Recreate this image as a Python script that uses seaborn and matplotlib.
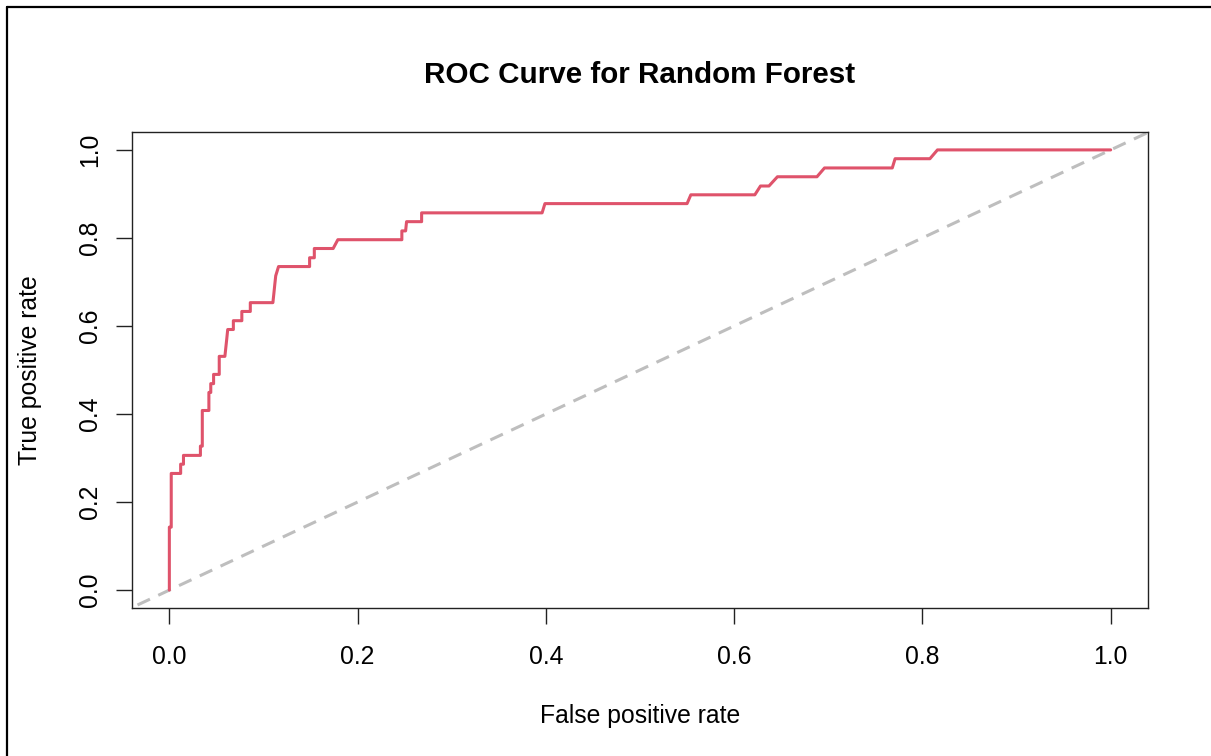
import matplotlib
matplotlib.use("Agg")
import matplotlib.pyplot as plt
from matplotlib.lines import Line2D
import seaborn as sns
import pandas as pd

# ROC curve points (false positive rate, true positive rate)
fpr = [0.0, 0.0, 0.002, 0.002, 0.012, 0.012, 0.015, 0.015, 0.033, 0.033,
       0.035, 0.035, 0.042, 0.042, 0.044, 0.044, 0.047, 0.047, 0.053, 0.053,
       0.059, 0.060, 0.061, 0.062, 0.068, 0.068, 0.077, 0.077, 0.086, 0.086,
       0.110, 0.111, 0.112, 0.113, 0.116, 0.149, 0.149, 0.154, 0.154, 0.174,
       0.179, 0.247, 0.247, 0.251, 0.252, 0.268, 0.268, 0.396, 0.399, 0.550,
       0.554, 0.622, 0.628, 0.637, 0.646, 0.688, 0.696, 0.768, 0.771, 0.808,
       0.816, 1.0]
tpr = [0.0, 0.143, 0.143, 0.265, 0.265, 0.286, 0.286, 0.306, 0.306, 0.327,
       0.327, 0.408, 0.408, 0.449, 0.449, 0.469, 0.469, 0.490, 0.490, 0.531,
       0.531, 0.551, 0.571, 0.592, 0.592, 0.612, 0.612, 0.633, 0.633, 0.653,
       0.653, 0.673, 0.694, 0.714, 0.735, 0.735, 0.755, 0.755, 0.776, 0.776,
       0.796, 0.796, 0.816, 0.816, 0.837, 0.837, 0.857, 0.857, 0.878, 0.878,
       0.898, 0.898, 0.918, 0.918, 0.939, 0.939, 0.959, 0.959, 0.980, 0.980,
       1.0, 1.0]

diag = [-0.1, 1.1]
ticks = [0.0, 0.2, 0.4, 0.6, 0.8, 1.0]
tick_labels = ["0.0", "0.2", "0.4", "0.6", "0.8", "1.0"]

title = "ROC Curve for Random Forest"
xlabel = "False positive rate"
ylabel = "True positive rate"

sns.set_style("white")
plt.rcParams["font.family"] = ["Liberation Sans", "DejaVu Sans"]

W, H = 1211, 756
fig = plt.figure(figsize=(W / 100, H / 100), dpi=100)
ax = fig.add_axes([131.7 / W, 1 - 607.7 / H, (1148.3 - 131.7) / W, (607.7 - 132.3) / H])

df = pd.DataFrame({"fpr": fpr, "tpr": tpr})
sns.lineplot(data=df, x="fpr", y="tpr", sort=False, estimator=None,
             color="#DF536B", linewidth=2.2, ax=ax)
ddf = pd.DataFrame({"x": diag, "y": diag})
sns.lineplot(data=ddf, x="x", y="y", sort=False, estimator=None,
             color="#BEBEBE", linewidth=2.2, ax=ax, zorder=1)
ax.lines[-1].set_dashes((4.5, 3))

ax.set_xlim(-0.04, 1.04)
ax.set_ylim(-0.04, 1.04)
ax.set_xticks(ticks)
ax.set_xticklabels(tick_labels)
ax.set_yticks(ticks)
ax.set_yticklabels(tick_labels, rotation=90, va="center")

for s in ax.spines.values():
    s.set_visible(True)
    s.set_color("#222222")
    s.set_linewidth(1.0)

ax.tick_params(axis="both", which="major", length=11.5, width=1.0, color="#222222",
               labelsize=17.8, labelcolor="black", direction="out",
               bottom=True, left=True)
ax.tick_params(axis="x", pad=15.5)
ax.tick_params(axis="y", pad=10)

ax.set_title(title, fontsize=21.3, fontweight="bold", pad=35.5, color="black")
ax.set_xlabel(xlabel, fontsize=17.8, color="black")
ax.set_ylabel(ylabel, fontsize=17.8, color="black")
ax.xaxis.set_label_coords(0.5, (607.7 - 716) / (607.7 - 132.3))
ax.xaxis.label.set_va("center")
ax.yaxis.set_label_coords((30 - 131.7) / (1148.3 - 131.7), 0.5)
ax.yaxis.label.set_va("center")

# outer frame (top and left edges visible in the reference)
fig.add_artist(Line2D([6.7 / W, 1.0], [1 - 7.3 / H, 1 - 7.3 / H],
                      transform=fig.transFigure, color="black", linewidth=1.6))
fig.add_artist(Line2D([6.7 / W, 6.7 / W], [0.0, 1 - 7.3 / H],
                      transform=fig.transFigure, color="black", linewidth=1.6))

fig.savefig("out.png", dpi=100, facecolor="white")
